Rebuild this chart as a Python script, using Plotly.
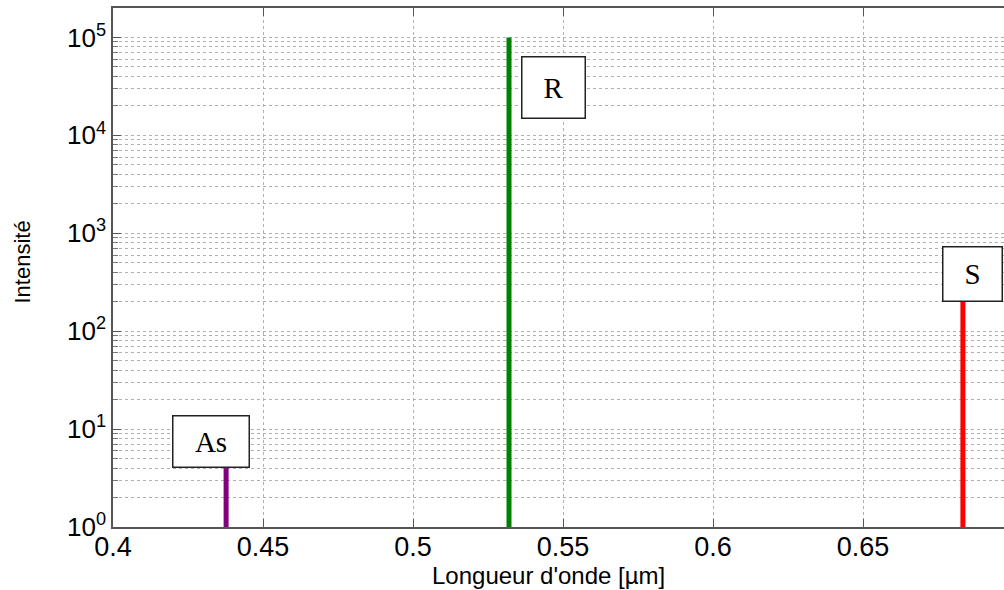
import math
import plotly.graph_objects as go

# ---- data ----
labels = ["As", "R", "S"]
wavelengths = [0.4377, 0.532, 0.6833]   # µm
intensities = [4, 1e5, 200]
colors = ["#800080", "#008000", "#ff0000"]

x_ticks = [0.4, 0.45, 0.5, 0.55, 0.6, 0.65]
x_ticktext = ["0.4", "0.45", "0.5", "0.55", "0.6", "0.65"]
y_ticks = [1, 10, 100, 1000, 10000, 100000]
y_ticktext = ["10<sup>%d</sup>" % i for i in range(6)]
x_title = "Longueur d'onde [µm]"
y_title = "Intensité"

# label box placement (pixel offsets from line top) and sizes
box_style = {
    "As": dict(xanchor="center", yanchor="bottom", xshift=-15, yshift=0, width=71, height=46),
    "R": dict(xanchor="left", yanchor="top", xshift=12, yshift=-19, width=58, height=56),
    "S": dict(xanchor="center", yanchor="bottom", xshift=10, yshift=0, width=54, height=49),
}

fig = go.Figure()
for lab, xv, iv, c in zip(labels, wavelengths, intensities, colors):
    fig.add_trace(go.Scatter(x=[xv, xv], y=[1, iv], mode="lines",
                             line=dict(color=c, width=5), showlegend=False,
                             hoverinfo="skip"))

for lab, xv, iv in zip(labels, wavelengths, intensities):
    st = box_style[lab]
    fig.add_annotation(x=xv, y=math.log10(iv), text=lab, showarrow=False,
                       font=dict(family="Liberation Serif, Times New Roman, serif", size=29, color="black"),
                       bgcolor="white", bordercolor="#222222", borderwidth=1.5, borderpad=2,
                       align="center", valign="middle", **st)

# axis titles placed as paper annotations
fig.add_annotation(x=0.5, xref="paper", y=0, yref="paper", yanchor="middle",
                   xshift=-10, yshift=-48, text=x_title, showarrow=False,
                   font=dict(size=24, color="black"))
fig.add_annotation(x=0, xref="paper", y=0.5, yref="paper", text=y_title, showarrow=False,
                   textangle=-90, xanchor="center", yanchor="middle", xshift=-91, yshift=5,
                   font=dict(size=22, color="black"))

grid_col = "#b0b0b0"
fig.update_layout(
    width=1004, height=590,
    margin=dict(l=113, r=0, t=8, b=63),
    paper_bgcolor="white", plot_bgcolor="white",
    font=dict(family="Liberation Sans, Arial, sans-serif", color="black"),
    xaxis=dict(range=[0.4, 0.697], tickvals=x_ticks, ticktext=x_ticktext, automargin=False,
               showgrid=True, gridcolor=grid_col, griddash="dot", gridwidth=1,
               showline=True, linecolor="#555555", linewidth=1.5, mirror="ticks",
               ticks="inside", ticklen=8, tickcolor="#555555", ticklabelstandoff=-5,
               tickfont=dict(size=27), zeroline=False),
    yaxis=dict(type="log", range=[0, math.log10(2e5)], tickvals=y_ticks, ticktext=y_ticktext,
               automargin=False,
               showgrid=True, gridcolor=grid_col, griddash="dot", gridwidth=1,
               showline=True, linecolor="#555555", linewidth=1.5,
               ticks="inside", ticklen=8, tickcolor="#555555",
               tickfont=dict(size=26), zeroline=False,
               minor=dict(dtick="D1", showgrid=True, gridcolor=grid_col, griddash="dot",
                          ticks="inside", ticklen=5, tickcolor="#777777")),
)

fig.write_html("out.html", config={"displayModeBar": False},
               post_script="document.body.style.margin='0';document.body.style.overflow='hidden';")
